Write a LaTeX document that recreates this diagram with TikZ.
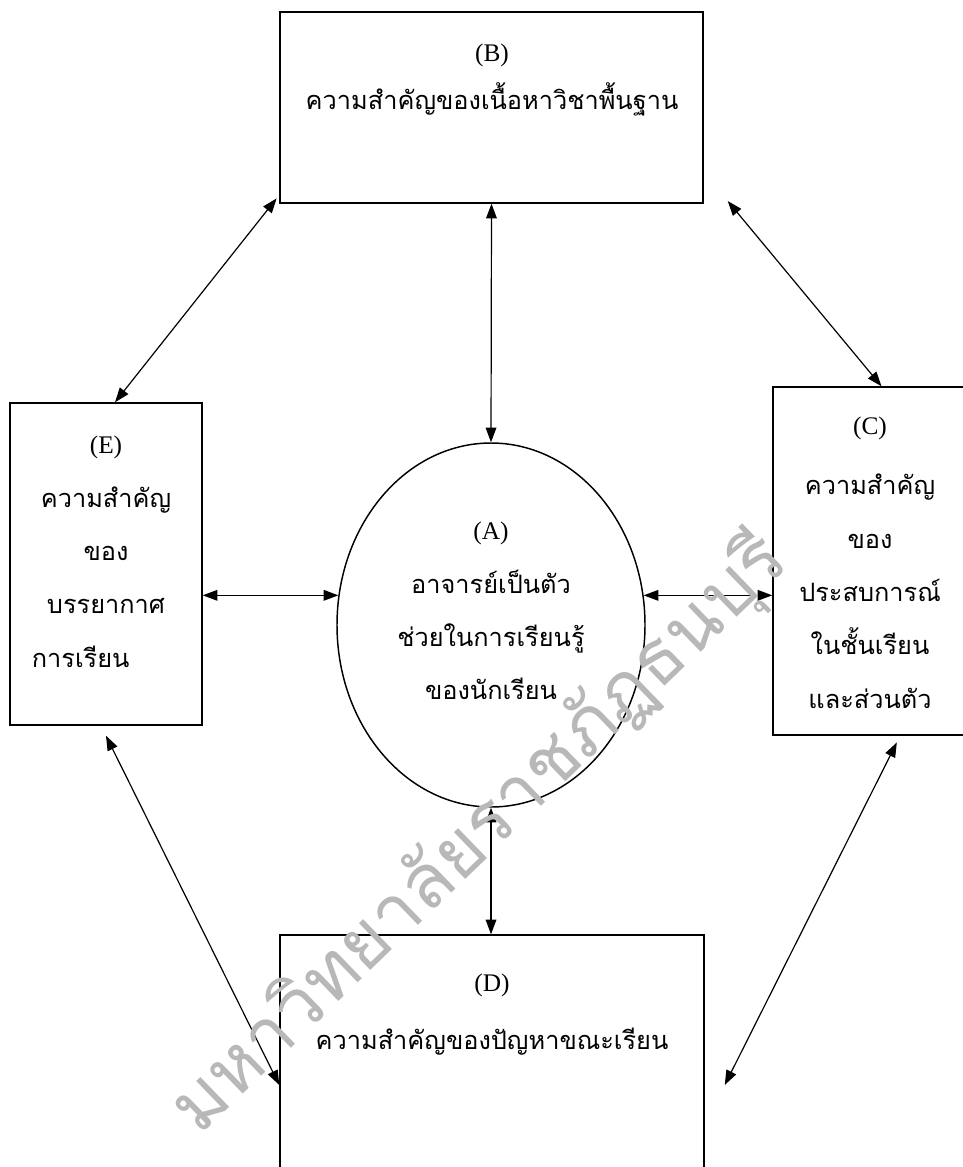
\documentclass[tikz,border=0pt]{standalone}
\usepackage{fontspec}
\setmainfont{Liberation Serif}
\newfontfamily\thaifont[Script=Thai]{Loma}
\usetikzlibrary{arrows.meta,fit,shapes.geometric}
\newcommand\boxlabel[1]{{\rmfamily\fontsize{19}{40}\selectfont #1}}

\begin{document}
\begin{tikzpicture}[x=0.75pt,y=-0.75pt,
  box/.style={draw,line width=1.1pt,inner sep=0pt},
  txt/.style={align=center,inner sep=0pt,anchor=north,font=\thaifont\fontsize{19}{40}\selectfont},
  link/.style={{Triangle[length=11pt,width=8pt]}-{Triangle[length=11pt,width=8pt]},line width=0.9pt}]
\useasboundingbox (0,0) rectangle (963,1167);
\clip (0,0) rectangle (963,1167);
\node[box,fit={(280,12) (703,203)}] (B) {};
\node[box,fit={(10,403) (202,725)}] (E) {};
\node[box,fit={(773,387) (990,735)}] (C) {};
\node[box,fit={(280,935) (704,1235)}] (D) {};
\node[box,ellipse,minimum width=231pt,minimum height=273pt] (A) at (491,625) {};
\node[txt] (Btext) at (492,44) {\boxlabel{(B)}\\[-4pt] ความสำคัญของเนื้อหาวิชาพื้นฐาน};
\node[txt] (Etext) at (106,436) {\boxlabel{(E)}\\ ความสำคัญ\\ ของ\\ บรรยากาศ\\ การเรียน\hspace*{2em}};
\node[txt] (Ctext) at (870,417) {\boxlabel{(C)}\\[5pt] ความสำคัญ\\ ของ\\ ประสบการณ์\\ ในชั้นเรียน\\ และส่วนตัว};
\node[txt] (Atext) at (491,522) {\boxlabel{(A)}\\ อาจารย์เป็นตัว\\ ช่วยในการเรียนรู้\\ ของนักเรียน};
\node[txt] (Dtext) at (492,974) {\boxlabel{(D)}\\[3pt] ความสำคัญของปัญหาขณะเรียน};
\draw[link] (B.south) -- (A.north);
\draw[link] (A.south) -- (A.south |- D.north);
\draw[link] (A.169) -- (A.169 -| E.east);
\draw[link] (A.11) -- (A.11 -| C.west);
\draw[link] ([xshift=-2pt,yshift=4pt]B.south west) -- ([xshift=6.75pt]E.north);
\draw[link] ([xshift=18pt,yshift=2pt]B.south east) -- (C.north);
\draw[link] ([yshift=-7.5pt]E.south) -- (D.west);
\draw[link] ([xshift=11.5pt,yshift=-5pt]C.south) -- ([xshift=15pt]D.east);
\node[rotate=44,text=black!28,font=\thaifont\fontsize{56}{60}\selectfont] (mark) at (480,835) {มหาวิทยาลัยราชภัฏธนบุรี};
\end{tikzpicture}
\end{document}
